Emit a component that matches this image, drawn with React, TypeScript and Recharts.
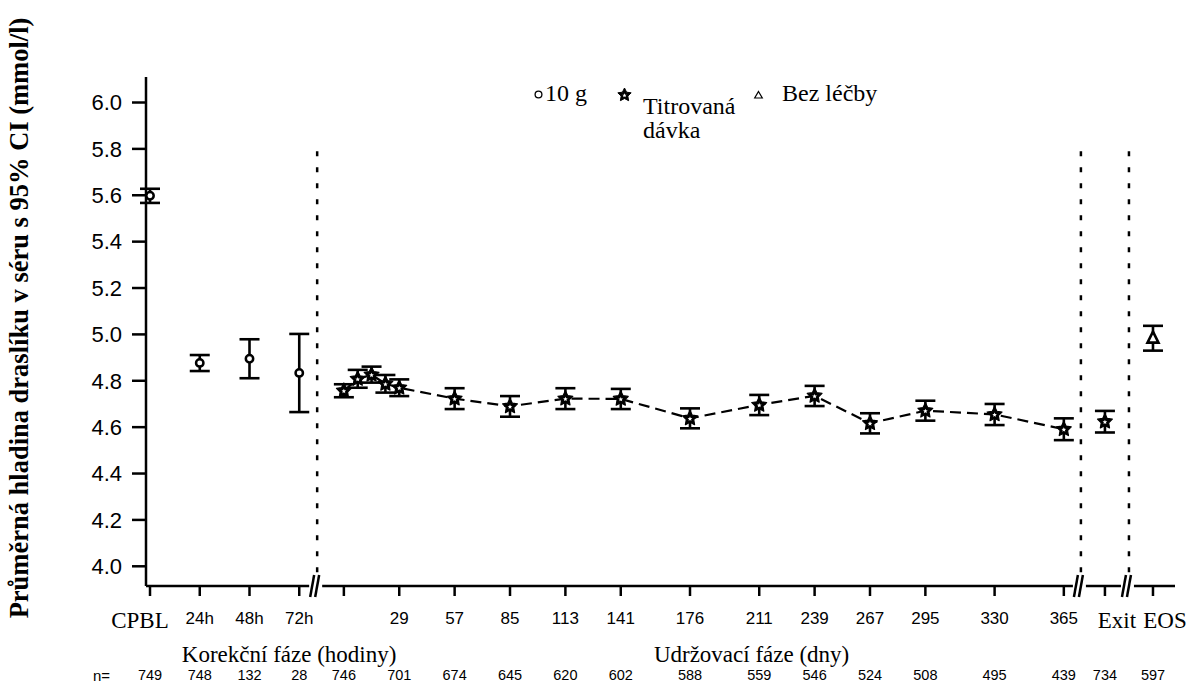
import React from 'react';
import {
  ComposedChart,
  Line,
  Scatter,
  XAxis,
  YAxis,
  ErrorBar,
  ReferenceLine,
  ReferenceDot,
  Legend,
} from 'recharts';

// Korekční fáze (hodiny)
const CORR_LABELS = ['CPBL', '24h', '48h', '72h'];
const CORR_MEAN = [5.598, 4.877, 4.895, 4.834];
const CORR_LO = [5.567, 4.842, 4.811, 4.665];
const CORR_HI = [5.628, 4.911, 4.979, 5.002];
const CORR_N = [749, 748, 132, 28];

// Udržovací fáze (dny)
const MAINT_DAYS = [1, 8, 15, 22, 29, 57, 85, 113, 141, 176, 211, 239, 267, 295, 330, 365];
const MAINT_MEAN = [4.757, 4.808, 4.826, 4.787, 4.77, 4.723, 4.69, 4.723, 4.722, 4.638, 4.696, 4.735, 4.617, 4.671, 4.655, 4.591];
const MAINT_LO = [4.729, 4.77, 4.792, 4.749, 4.734, 4.678, 4.645, 4.678, 4.678, 4.595, 4.652, 4.691, 4.573, 4.628, 4.609, 4.544];
const MAINT_HI = [4.785, 4.847, 4.861, 4.825, 4.806, 4.768, 4.734, 4.768, 4.765, 4.681, 4.739, 4.778, 4.66, 4.714, 4.7, 4.638];
const MAINT_TICK_DAYS = [1, 29, 57, 85, 113, 141, 176, 211, 239, 267, 295, 330, 365];
const MAINT_N = [746, 701, 674, 645, 620, 602, 588, 559, 546, 524, 508, 495, 439];

// Exit (titrovaná dávka), EOS (bez léčby)
const END_LABELS = ['Exit', 'EOS'];
const END_MEAN = [4.624, 4.984];
const END_LO = [4.577, 4.93];
const END_HI = [4.67, 5.037];
const END_N = [734, 597];

const Y_TICKS = [4.0, 4.2, 4.4, 4.6, 4.8, 5.0, 5.2, 5.4, 5.6, 5.8, 6.0];
const PHASE_LABELS = ['Korekční fáze (hodiny)', 'Udržovací fáze (dny)'];
const LEGEND_NAMES = ['10 g', 'Titrovaná', 'dávka', 'Bez léčby'];

// broken x axis layout (units along the axis)
const X_MAX = 1028;
const corrX = (i: number) => 4 + i * 49.7;
const dayX = (d: number) => 253 + (d - 29) * 1.976;
const END_X = [958, 1006];
const BREAKS = [170, 933, 981];
const PHASE_X = [143, 605];
const Y_MIN = 3.915;
const Y_MAX = 6.11;

const SERIF = "'Times New Roman', 'Liberation Serif', serif";
const SANS = "Arial, 'Liberation Sans', sans-serif";

const corrData = CORR_LABELS.map((_, i) => ({
  x: corrX(i),
  y: CORR_MEAN[i],
  err: [CORR_MEAN[i] - CORR_LO[i], CORR_HI[i] - CORR_MEAN[i]],
}));
const maintData = MAINT_DAYS.map((d, i) => ({
  x: dayX(d),
  y: MAINT_MEAN[i],
  err: [MAINT_MEAN[i] - MAINT_LO[i], MAINT_HI[i] - MAINT_MEAN[i]],
}));
const exitData = [{ x: END_X[0], y: END_MEAN[0], err: [END_MEAN[0] - END_LO[0], END_HI[0] - END_MEAN[0]] }];
const eosData = [{ x: END_X[1], y: END_MEAN[1], err: [END_MEAN[1] - END_LO[1], END_HI[1] - END_MEAN[1]] }];

const tickPos = [...CORR_LABELS.map((_, i) => corrX(i)), ...MAINT_TICK_DAYS.map(dayX), ...END_X];
const tickLabels = [...CORR_LABELS, ...MAINT_TICK_DAYS.map((d) => (d === 1 ? '' : String(d))), ...END_LABELS];
const nLabels = [...CORR_N, ...MAINT_N, ...END_N].map(String);

function starPath(cx: number, cy: number, R: number, r: number) {
  let d = '';
  for (let k = 0; k < 10; k++) {
    const a = -Math.PI / 2 + (k * Math.PI) / 5;
    const rad = k % 2 === 0 ? R : r;
    d += (k === 0 ? 'M' : 'L') + (cx + rad * Math.cos(a)).toFixed(2) + ',' + (cy + rad * Math.sin(a)).toFixed(2);
  }
  return d + 'Z';
}

const CircleMark = (p: any) => (
  <circle cx={p.cx} cy={p.cy} r={3.7} fill="#fff" stroke="#000" strokeWidth={2.5} />
);
const StarMark = (p: any) => (
  <g>
    <path d={starPath(p.cx, p.cy, 7.8, 3.9)} fill="#000" stroke="#000" strokeWidth={1.2} strokeLinejoin="round" />
    <path d={starPath(p.cx, p.cy + 0.5, 2.4, 1.1)} fill="#fff" />
  </g>
);
const TriMark = (p: any) => (
  <path d={`M${p.cx},${p.cy - 6.5}L${p.cx + 5.5},${p.cy + 4.5}L${p.cx - 5.5},${p.cy + 4.5}Z`} fill="#fff" stroke="#000" strokeWidth={2.6} />
);

const BreakMark = (p: any) => (
  <g>
    <rect x={p.cx - 7} y={p.cy - 3} width={13} height={6} fill="#fff" />
    <line x1={p.cx - 6} y1={p.cy + 11} x2={p.cx - 2} y2={p.cy - 11} stroke="#000" strokeWidth={2.5} />
    <line x1={p.cx - 1} y1={p.cy + 11} x2={p.cx + 3} y2={p.cy - 11} stroke="#000" strokeWidth={2.5} />
  </g>
);

const PhaseMark = (p: any) => (
  <text x={p.cx} y={p.cy + 60} dy="0.71em" textAnchor="middle" fill="#000" fontFamily={SERIF} fontSize={23}>
    {PHASE_LABELS[PHASE_X.indexOf(p.x)] ?? ''}
  </text>
);

const MainTick = (p: any) => {
  const label = tickLabels[p.index];
  const serif = label === 'CPBL' || label === 'Exit' || label === 'EOS';
  const dx = label === 'CPBL' ? -10 : serif ? 12 : 0;
  return (
    <g>
      <text x={p.x + dx} y={p.y} dy="0.71em" textAnchor="middle" fill="#000"
        fontFamily={serif ? SERIF : SANS} fontSize={serif ? 23 : 17}>
        {label}
      </text>
      <text x={p.x} y={p.y + 58} dy="0.71em" textAnchor="middle" fill="#000" fontFamily={SANS} fontSize={14.5}>
        {nLabels[p.index]}
      </text>
      {p.index === 0 && (
        <text x={110} y={p.y + 58} dy="0.71em" textAnchor="end" fill="#000" fontFamily={SANS} fontSize={15}>
          n=
        </text>
      )}
    </g>
  );
};

const YLabel = () => (
  <text x={28} y={318} transform="rotate(-90 28 318)" textAnchor="middle" fill="#000"
    fontFamily={SERIF} fontWeight="bold" fontSize={26.5}>
    Průměrná hladina draslíku v séru s 95% CI (mmol/l)
  </text>
);

const LegendBox = () => (
  <svg width={1190} height={150} style={{ display: 'block' }}>
    <g fontFamily={SERIF} fontSize={24} fill="#000">
      <circle cx={538.5} cy={94.5} r={3.4} fill="#fff" stroke="#000" strokeWidth={1.3} />
      <text x={545} y={101}>{LEGEND_NAMES[0]}</text>
      <path d={starPath(624.5, 95, 7, 3.5)} fill="#000" stroke="#000" strokeWidth={1} strokeLinejoin="round" />
      <path d={starPath(624.5, 95.5, 2.2, 1)} fill="#fff" />
      <text x={643} y={114}>{LEGEND_NAMES[1]}</text>
      <text x={643} y={138}>{LEGEND_NAMES[2]}</text>
      <path d="M758.5,91.5L762.3,98L754.7,98Z" fill="#fff" stroke="#000" strokeWidth={1.2} />
      <text x={782} y={101}>{LEGEND_NAMES[3]}</text>
    </g>
  </svg>
);

export default function App() {
  return (
    <div style={{ position: 'fixed', left: 0, top: 0, width: 1190, height: 686, background: '#fff', overflow: 'hidden' }}>
      <ComposedChart width={1190} height={686} margin={{ top: 77, right: 15, bottom: 42, left: 66 }}>
        <XAxis
          xAxisId="main"
          dataKey="x"
          type="number"
          domain={[0, X_MAX]}
          allowDataOverflow
          ticks={tickPos}
          interval={0}
          tick={<MainTick />}
          tickSize={10}
          tickMargin={16}
          height={58}
          stroke="#000"
          strokeWidth={2.5}
        />
        <YAxis
          dataKey="y"
          type="number"
          domain={[Y_MIN, Y_MAX]}
          allowDataOverflow
          ticks={Y_TICKS}
          interval={0}
          tickFormatter={(v: number) => v.toFixed(1)}
          tick={{ fill: '#000', fontFamily: SANS, fontSize: 22 }}
          tickSize={14}
          tickMargin={10}
          width={80}
          stroke="#000"
          strokeWidth={2.5}
          label={<YLabel />}
        />
        <Legend
          layout="horizontal"
          verticalAlign="middle"
          align="center"
          content={() => <LegendBox />}
          wrapperStyle={{ left: 0, top: 0, width: 1190, height: 150 }}
        />
        {BREAKS.map((b) => (
          <ReferenceLine
            key={'l' + b}
            xAxisId="main"
            segment={[{ x: b + 1, y: 5.79 }, { x: b + 1, y: Y_MIN }]}
            stroke="#000"
            strokeWidth={2.5}
            strokeDasharray="5 11"
          />
        ))}
        <Scatter xAxisId="main" name="10 g" data={corrData} dataKey="y" shape={<CircleMark />} isAnimationActive={false}>
          <ErrorBar dataKey="err" direction="y" width={10} stroke="#000" strokeWidth={2.6} />
        </Scatter>
        <Line
          xAxisId="main"
          name="Titrovaná dávka"
          data={maintData}
          dataKey="y"
          stroke="#000"
          strokeWidth={2.2}
          strokeDasharray="11 6"
          dot={(p: any) => <StarMark key={p.index} {...p} />}
          activeDot={false}
          isAnimationActive={false}
        >
          <ErrorBar dataKey="err" direction="y" width={10} stroke="#000" strokeWidth={2.6} />
        </Line>
        <Scatter xAxisId="main" name="Titrovaná dávka exit" data={exitData} dataKey="y" shape={<StarMark />} isAnimationActive={false}>
          <ErrorBar dataKey="err" direction="y" width={10} stroke="#000" strokeWidth={2.6} />
        </Scatter>
        <Scatter xAxisId="main" name="Bez léčby" data={eosData} dataKey="y" shape={<TriMark />} isAnimationActive={false}>
          <ErrorBar dataKey="err" direction="y" width={10} stroke="#000" strokeWidth={2.6} />
        </Scatter>
        {BREAKS.map((b) => (
          <ReferenceDot
            key={'b' + b}
            xAxisId="main"
            x={b}
            y={Y_MIN}
            ifOverflow="visible"
            shape={<BreakMark />}
          />
        ))}
        {PHASE_X.map((px) => (
          <ReferenceDot
            key={'p' + px}
            xAxisId="main"
            x={px}
            y={Y_MIN}
            ifOverflow="visible"
            shape={(p: any) => <PhaseMark {...p} x={px} />}
          />
        ))}
      </ComposedChart>
    </div>
  );
}
